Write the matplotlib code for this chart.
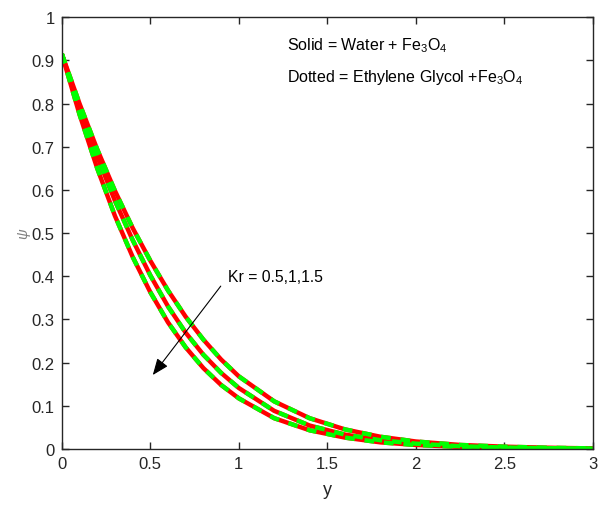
import matplotlib
matplotlib.use('Agg')
import matplotlib.pyplot as plt

plt.rcParams['font.family'] = ['Liberation Sans', 'DejaVu Sans']
plt.rcParams['mathtext.fontset'] = 'custom'
plt.rcParams['mathtext.rm'] = 'Liberation Sans'
plt.rcParams['mathtext.it'] = 'Liberation Sans:italic'

## y positions where psi was read
y = [0, 0.1, 0.2, 0.3, 0.4, 0.5, 0.6, 0.7, 0.8, 0.9, 1.0,
     1.2, 1.4, 1.6, 1.8, 2.0, 2.25, 2.5, 2.75, 3.0]
## Kr values
kr = [0.5, 1, 1.5]
# Water + Fe3O4 (solid)
psi_water = [
    [0.915, 0.800, 0.694, 0.598, 0.512, 0.436, 0.367, 0.306, 0.253, 0.207, 0.168,
     0.110, 0.071, 0.045, 0.028, 0.017, 0.009, 0.005, 0.0025, 0.001],
    [0.915, 0.790, 0.677, 0.575, 0.484, 0.402, 0.330, 0.269, 0.218, 0.176, 0.141,
     0.088, 0.054, 0.033, 0.020, 0.012, 0.006, 0.003, 0.0015, 0.0007],
    [0.915, 0.775, 0.650, 0.540, 0.445, 0.363, 0.293, 0.235, 0.187, 0.148, 0.117,
     0.071, 0.043, 0.026, 0.015, 0.009, 0.0045, 0.0022, 0.0011, 0.0005],
]
# Ethylene Glycol + Fe3O4 (dotted), sits on top of the water curves
psi_eg = [
    [0.915, 0.800, 0.694, 0.598, 0.512, 0.436, 0.367, 0.306, 0.253, 0.207, 0.168,
     0.110, 0.071, 0.045, 0.028, 0.017, 0.009, 0.005, 0.0025, 0.001],
    [0.915, 0.790, 0.677, 0.575, 0.484, 0.402, 0.330, 0.269, 0.218, 0.176, 0.141,
     0.088, 0.054, 0.033, 0.020, 0.012, 0.006, 0.003, 0.0015, 0.0007],
    [0.915, 0.775, 0.650, 0.540, 0.445, 0.363, 0.293, 0.235, 0.187, 0.148, 0.117,
     0.071, 0.043, 0.026, 0.015, 0.009, 0.0045, 0.0022, 0.0011, 0.0005],
]

fig = plt.figure(figsize=(6, 5.06), dpi=100)
ax = fig.add_axes([0.103, 0.111, 0.885, 0.853])

for i in range(len(kr)):
    ax.plot(y, psi_water[i], color='#ff0000', lw=3.2, solid_capstyle='butt',
            solid_joinstyle='round')
for i in range(len(kr)):
    ax.plot(y, psi_eg[i], color='#00ff00', lw=3.2, ls=(0, (2.2, 2.2)))

ax.set_xlim(0, 3)
ax.set_ylim(0, 1)
ax.set_xticks([0, 0.5, 1, 1.5, 2, 2.5, 3])
ax.set_xticklabels(['0', '0.5', '1', '1.5', '2', '2.5', '3'])
ax.set_yticks([i / 10 for i in range(11)])
ax.set_yticklabels(['0', '0.1', '0.2', '0.3', '0.4', '0.5', '0.6', '0.7', '0.8', '0.9', '1'])
ax.tick_params(direction='in', top=True, right=True, length=5, width=1,
               labelsize=12, colors='#262626', pad=5)
for s in ax.spines.values():
    s.set_color('#262626')
    s.set_linewidth(1)

ax.set_xlabel('y', fontsize=13, color='#262626', labelpad=7)
ax.set_ylabel(r'$\psi$', fontsize=10.5, color='#808080', labelpad=-1)

ax.text(1.27, 0.9375, r'Solid = Water + Fe$_3$O$_4$', fontsize=11.5, va='center')
ax.text(1.27, 0.863, r'Dotted = Ethylene Glycol +Fe$_3$O$_4$', fontsize=11.5, va='center')

ax.text(0.938, 0.40, 'Kr = 0.5,1,1.5', fontsize=11.3, va='center')
ax.annotate('', xy=(0.514, 0.171), xytext=(0.898, 0.377),
            arrowprops=dict(arrowstyle='-|>,head_length=1.0,head_width=0.4',
                            color='black', lw=0.8, shrinkA=0, shrinkB=0))

fig.savefig('out.png', dpi=100)
